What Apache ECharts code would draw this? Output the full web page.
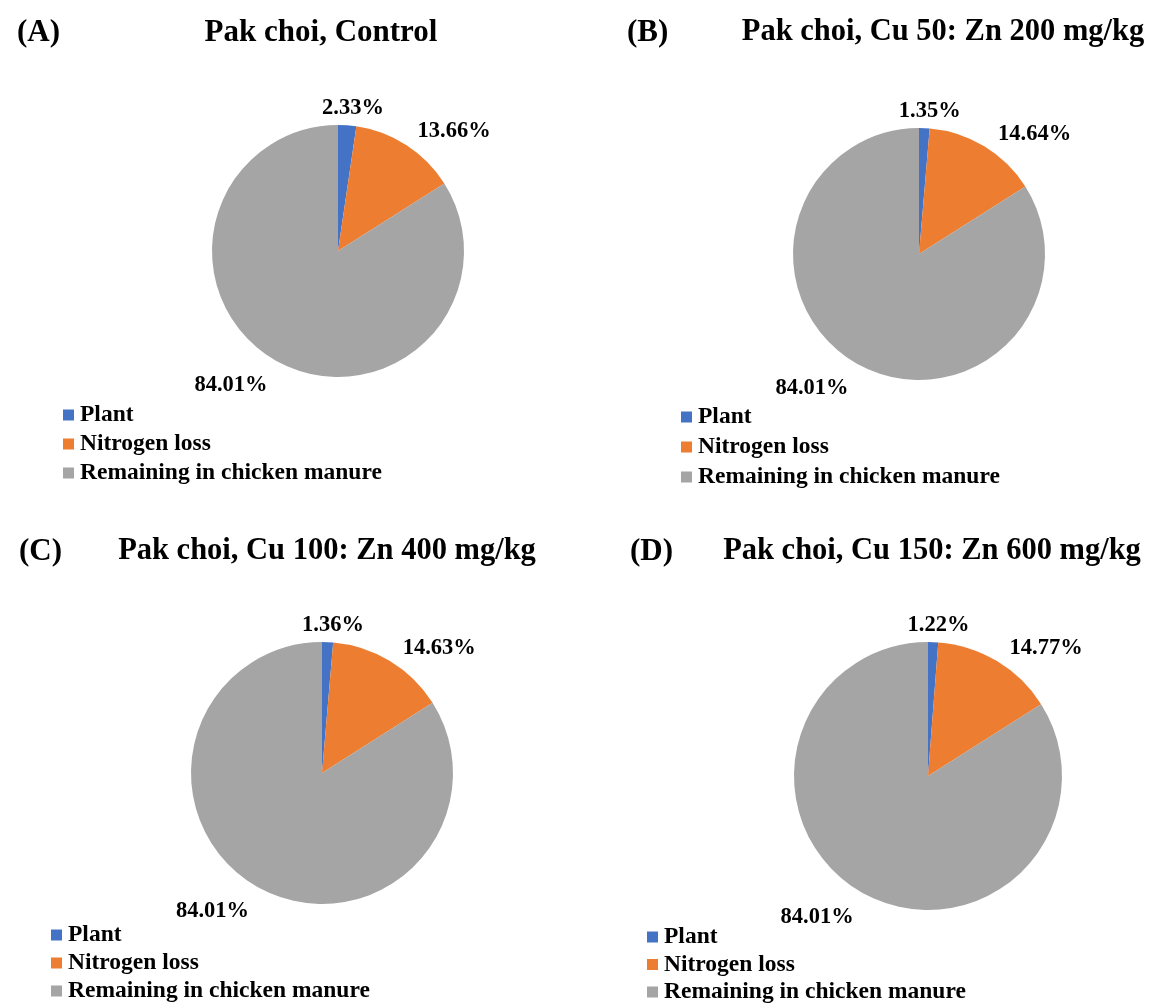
<!DOCTYPE html>
<html><head><meta charset="utf-8">
<script src="https://cdn.jsdelivr.net/npm/echarts@6/dist/echarts.min.js"></script>
<style>html,body{margin:0;padding:0;background:#fff}#c{width:1154px;height:1004px}</style>
</head><body><div id="c"></div>
<script>
const categories = ['Plant', 'Nitrogen loss', 'Remaining in chicken manure'];
const panelLetters = ['(A)', '(B)', '(C)', '(D)'];
const panelTitles = ['Pak choi, Control', 'Pak choi, Cu 50: Zn 200 mg/kg', 'Pak choi, Cu 100: Zn 400 mg/kg', 'Pak choi, Cu 150: Zn 600 mg/kg'];
const valuesA = [2.33, 13.66, 84.01];
const valuesB = [1.35, 14.64, 84.01];
const valuesC = [1.36, 14.63, 84.01];
const valuesD = [1.22, 14.77, 84.01];
const allValues = [valuesA, valuesB, valuesC, valuesD];

const colors = ['#4472C4', '#ED7D31', '#A5A5A5'];
const FONT = '"Liberation Serif", "Times New Roman", serif';

const layout = [
  {letter: [12, 12], title: [316, 12], tsize: 31, center: [338, 251], r: 126, legend: [63, 403], gap: 5},
  {letter: [622, 12], title: [938, 12], tsize: 30.5, center: [919, 254], r: 126, legend: [681, 405], gap: 6},
  {letter: [14, 531], title: [322, 531], tsize: 30.5, center: [322, 773], r: 131, legend: [51, 923], gap: 4},
  {letter: [625, 531], title: [927, 531], tsize: 30.5, center: [928, 776], r: 134, legend: [647, 925], gap: 3.5}
];

// label nudges (Excel "outside end" look)
const labelNudge = [
  {align: 'center', dy: -7},
  {dy: -9},
  {dy: 15}
];

const titles = [];
const legends = [];
const series = [];
layout.forEach((L, i) => {
  titles.push({text: panelLetters[i], left: L.letter[0], top: L.letter[1],
    textStyle: {fontFamily: FONT, fontSize: 31, fontWeight: 'bold', color: '#000'}});
  titles.push({text: panelTitles[i], left: L.title[0], top: L.title[1], textAlign: 'center',
    textStyle: {fontFamily: FONT, fontSize: L.tsize, fontWeight: 'bold', color: '#000'}});
  legends.push({data: categories, orient: 'vertical', left: L.legend[0], top: L.legend[1],
    width: 400, height: 120,
    itemWidth: 11, itemHeight: 11, itemGap: L.gap, icon: 'rect', selectedMode: false, padding: 0,
    textStyle: {fontFamily: FONT, fontSize: 23.5, fontWeight: 'bold', color: '#000', padding: [0, 0, 0, 1]}});
  series.push({
    type: 'pie', center: L.center, radius: L.r, startAngle: 90, clockwise: true,
    animation: false, silent: true,
    data: categories.map((c, k) => ({name: c, value: allValues[i][k], itemStyle: {color: colors[k]}})),
    label: {show: true, position: 'outside', formatter: p => p.value.toFixed(2) + '%',
      fontFamily: FONT, fontSize: 22.5, fontWeight: 'bold', color: '#000'},
    labelLine: {show: false, length: 10, length2: 0},
    labelLayout: p => labelNudge[p.dataIndex],
    itemStyle: {borderWidth: 0}
  });
});

const chart = echarts.init(document.getElementById('c'));
chart.setOption({backgroundColor: '#fff', title: titles, legend: legends, series: series});
</script></body></html>
